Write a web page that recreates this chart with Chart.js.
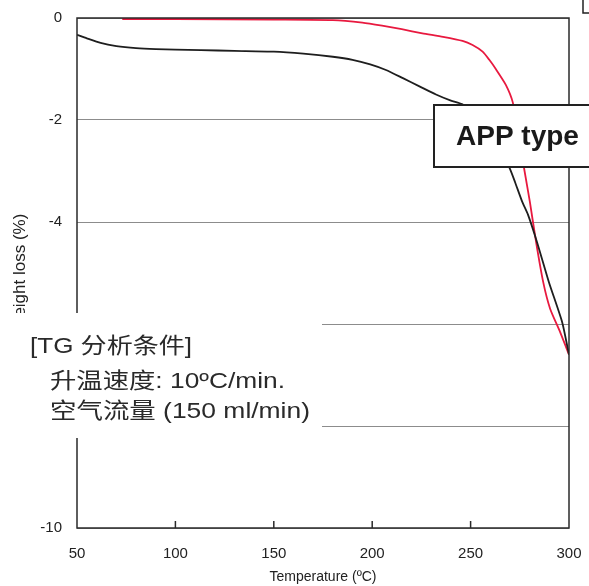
<!DOCTYPE html>
<html>
<head>
<meta charset="utf-8">
<script src="https://cdn.jsdelivr.net/npm/chart.js@4.4.1/dist/chart.umd.min.js"></script>
<style>
  html, body { margin: 0; padding: 0; background: #fff; }
  #wrap { width: 589px; height: 586px; }
</style>
</head>
<body>
<div id="wrap"><canvas id="tg" width="589" height="586"></canvas></div>
<script>
// TG curves (temperature in ºC, weight loss in %)
const xTicks = [50, 100, 150, 200, 250, 300];
const yTicks = [0, -2, -4, -6, -8, -10];

const blackTemp = [50, 55, 62, 70, 80, 90, 100, 113, 130, 150, 165, 180, 190, 199, 207, 215.6, 224, 232.4, 240, 245.6, 250, 255, 260, 265, 270, 272.6, 276.2, 279.2, 283.8, 289.8, 296.5, 300];
const blackLoss = [-0.33, -0.40, -0.49, -0.55, -0.59, -0.61, -0.62, -0.63, -0.645, -0.66, -0.70, -0.76, -0.82, -0.91, -1.02, -1.18, -1.34, -1.50, -1.62, -1.69, -1.80, -2.0, -2.25, -2.55, -2.96, -3.22, -3.6, -3.86, -4.4, -5.18, -5.96, -6.6];

const redTemp = [73, 100, 150, 180, 195, 205, 215, 225.5, 236, 245.9, 251, 256.1, 259.5, 262.8, 267.9, 271.4, 274.5, 277.5, 280.1, 283.3, 286.9, 290.4, 295.5, 300];
const redLoss = [-0.02, -0.02, -0.03, -0.04, -0.09, -0.15, -0.22, -0.30, -0.37, -0.45, -0.53, -0.66, -0.82, -1.0, -1.31, -1.65, -2.33, -3.02, -3.6, -4.4, -5.18, -5.7, -6.16, -6.6];

const conditionLines = ['[TG 分析条件]', '升温速度: 10ºC/min.', '空气流量 (150 ml/min)'];
const sampleLabel = 'APP type';

const toPoints = (xs, ys) => xs.map((t, i) => ({ x: t, y: ys[i] }));

// draw a text line stretched to a given width (the scan's font is wider than Arial)
function fitText(ctx, text, x, y, width) {
  const w = ctx.measureText(text).width;
  ctx.save();
  ctx.translate(x, y);
  ctx.scale(width / w, 1);
  ctx.fillText(text, 0, 0);
  ctx.restore();
}

const overlay = {
  id: 'overlay',
  afterDraw(chart) {
    const { ctx, chartArea: a, scales: { x } } = chart;
    ctx.save();
    // plot frame
    ctx.strokeStyle = '#2a2a2a';
    ctx.lineWidth = 1.5;
    ctx.strokeRect(a.left, a.top, a.right - a.left, a.bottom - a.top);
    // inner tick marks on the temperature axis
    xTicks.slice(1, -1).forEach(v => {
      const px = x.getPixelForValue(v);
      ctx.beginPath();
      ctx.moveTo(px, a.bottom);
      ctx.lineTo(px, a.bottom - 7);
      ctx.stroke();
    });
    // measurement conditions note (white background)
    ctx.fillStyle = '#fff';
    ctx.fillRect(0, 313, 322, 125);
    ctx.fillStyle = '#2a2a2a';
    ctx.textBaseline = 'alphabetic';
    ctx.font = '22px "Liberation Sans", "Noto Sans CJK SC", sans-serif';
    fitText(ctx, conditionLines[0], 30, 353, 162);
    fitText(ctx, conditionLines[1], 50, 388, 235);
    fitText(ctx, conditionLines[2], 50, 418, 260);
    // sample label box
    ctx.fillStyle = '#fff';
    ctx.fillRect(434, 105, 170, 62);
    ctx.strokeStyle = '#222';
    ctx.lineWidth = 2;
    ctx.strokeRect(434, 105, 170, 62);
    ctx.fillStyle = '#1a1a1a';
    ctx.font = 'bold 28px "Liberation Sans", sans-serif';
    ctx.fillText(sampleLabel, 456, 145);
    // corner of a neighbouring box, cut off by the page edge
    ctx.lineWidth = 1.5;
    ctx.beginPath();
    ctx.moveTo(583, 0);
    ctx.lineTo(583, 13);
    ctx.lineTo(592, 13);
    ctx.stroke();
    ctx.restore();
  }
};

const axisFont = { family: '"Liberation Sans", Arial', size: 15 };

new Chart(document.getElementById('tg'), {
  type: 'line',
  data: {
    datasets: [
      {
        label: 'black',
        data: toPoints(blackTemp, blackLoss),
        borderColor: '#1e1e1e',
        borderWidth: 1.8,
        pointRadius: 0,
        tension: 0.2
      },
      {
        label: 'red',
        data: toPoints(redTemp, redLoss),
        borderColor: '#e8193f',
        borderWidth: 1.8,
        pointRadius: 0,
        tension: 0.2
      }
    ]
  },
  options: {
    responsive: false,
    animation: false,
    layout: { padding: { left: 0, right: 20, top: 18, bottom: 0 } },
    plugins: { legend: { display: false }, tooltip: { enabled: false } },
    scales: {
      x: {
        type: 'linear',
        min: 50,
        max: 300,
        afterFit: s => { s.height = 58; s.paddingLeft = 0; s.paddingRight = 0; },
        afterBuildTicks: s => { s.ticks = xTicks.map(v => ({ value: v })); },
        grid: { display: false, drawTicks: false },
        border: { display: false },
        ticks: { padding: 17, color: '#222', font: axisFont },
        title: {
          display: true,
          text: 'Temperature (ºC)',
          color: '#222',
          padding: { top: 0, bottom: 0 },
          font: { family: '"Liberation Sans", Arial', size: 14 }
        }
      },
      y: {
        min: -10,
        max: 0,
        afterFit: s => { s.width = 77; s.paddingTop = 0; s.paddingBottom = 0; },
        afterBuildTicks: s => { s.ticks = yTicks.map(v => ({ value: v })); },
        grid: { color: '#8c8c8c', lineWidth: 1, drawTicks: false },
        border: { display: false },
        ticks: { padding: 15, color: '#222', font: axisFont },
        title: {
          display: true,
          text: 'Weight loss (%)',
          color: '#222',
          padding: { top: 10, bottom: 0 },
          font: { family: '"Liberation Sans", Arial', size: 17 }
        }
      }
    }
  },
  plugins: [overlay]
});
</script>
</body>
</html>
